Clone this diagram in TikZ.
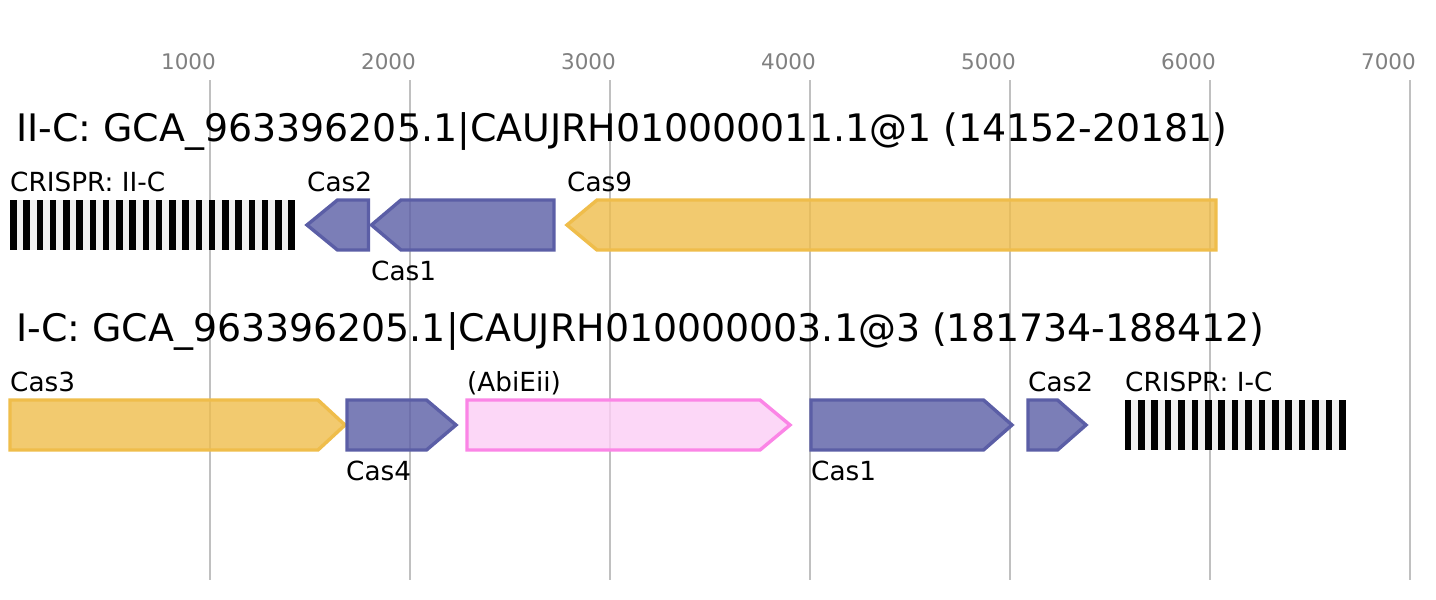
\documentclass[tikz,border=0pt]{standalone}
\usepackage{fontspec}
\setmainfont{DejaVu Sans}
\definecolor{gridc}{HTML}{C0C0C0}
\definecolor{tickc}{HTML}{808080}
\definecolor{casb}{HTML}{5B5EA6}
\definecolor{casy}{HTML}{EFBD4B}
\definecolor{casp}{HTML}{FB85E6}
\definecolor{caspf}{HTML}{FCCDF5}
\definecolor{crg}{HTML}{EFEFEF}
\tikzset{
  gridline/.style={draw=gridc, line width=1.8pt},
  ticklab/.style={anchor=base east, inner sep=0pt, text=tickc, font=\fontsize{21.5}{24}\selectfont},
  titlelab/.style={anchor=base west, inner sep=0pt, font=\fontsize{37.9}{40}\selectfont},
  genelab/.style={anchor=base west, inner sep=0pt, font=\fontsize{26.3}{28}\selectfont},
  blue gene/.style={draw=casb, fill=casb, fill opacity=0.8, line width=3.4pt},
  gold gene/.style={draw=casy, fill=casy, fill opacity=0.8, line width=3.4pt},
  pink gene/.style={draw=casp, fill=caspf, fill opacity=0.8, line width=3.4pt},
  crbar/.style={fill=black},
  crbg/.style={fill=crg},
}
\begin{document}
\begin{tikzpicture}[x=1pt,y=-1pt]
\useasboundingbox[fill=white] (0,0) rectangle (1436,600);
% grid and ticks
\foreach \k [evaluate=\k as \gx using 10+200*\k] in {1,...,7}{
  \draw[gridline] (\gx,80) -- (\gx,580);
  \node[ticklab] (tick\k) at (\gx+6,69) {\k000};
}
% ---------- row 1 ----------
\node[titlelab] (title1) at (16,141) {II-C: GCA\_963396205.1|CAUJRH010000011.1@1 (14152-20181)};
% CRISPR array II-C
\fill[crbg] (10,200) rectangle (295,250);
\foreach \i in {0,...,21}{
  \fill[crbar] (10+13.25*\i,200) rectangle (16.7+13.25*\i,250);
}
\node[genelab] (l-cr1) at (10,191) {CRISPR: II-C};
% Cas2 (reverse)
\draw[blue gene] (307,225) -- (337.5,200) -- (368.5,200) -- (368.5,250) -- (337.5,250) -- cycle;
\node[genelab] (l-cas2a) at (307,191) {Cas2};
% Cas1 (reverse)
\draw[blue gene] (371.5,225) -- (401,200) -- (554,200) -- (554,250) -- (401,250) -- cycle;
\node[genelab] (l-cas1a) at (371,280) {Cas1};
% Cas9 (reverse)
\draw[gold gene] (567,225) -- (597,200) -- (1216,200) -- (1216,250) -- (597,250) -- cycle;
\node[genelab] (l-cas9) at (567,191) {Cas9};
% ---------- row 2 ----------
\node[titlelab] (title2) at (16,341) {I-C: GCA\_963396205.1|CAUJRH010000003.1@3 (181734-188412)};
% Cas3
\draw[gold gene] (10,400) -- (318,400) -- (345,425) -- (318,450) -- (10,450) -- cycle;
\node[genelab] (l-cas3) at (10,391) {Cas3};
% Cas4
\draw[blue gene] (347,400) -- (426.5,400) -- (456,425) -- (426.5,450) -- (347,450) -- cycle;
\node[genelab] (l-cas4) at (346,480) {Cas4};
% AbiEii
\draw[pink gene] (467,400) -- (760,400) -- (790,425) -- (760,450) -- (467,450) -- cycle;
\node[genelab] (l-abi) at (467,391) {(AbiEii)};
% Cas1
\draw[blue gene] (811,400) -- (983.5,400) -- (1012,425) -- (983.5,450) -- (811,450) -- cycle;
\node[genelab] (l-cas1b) at (811,480) {Cas1};
% Cas2
\draw[blue gene] (1028,400) -- (1057.5,400) -- (1086,425) -- (1057.5,450) -- (1028,450) -- cycle;
\node[genelab] (l-cas2b) at (1028,391) {Cas2};
% CRISPR array I-C
\fill[crbg] (1124.5,400) rectangle (1345.5,450);
\foreach \i in {0,...,16}{
  \fill[crbar] (1124.5+13.4*\i,400) rectangle (1131.2+13.4*\i,450);
}
\node[genelab] (l-cr2) at (1125,391) {CRISPR: I-C};
\end{tikzpicture}
\end{document}
